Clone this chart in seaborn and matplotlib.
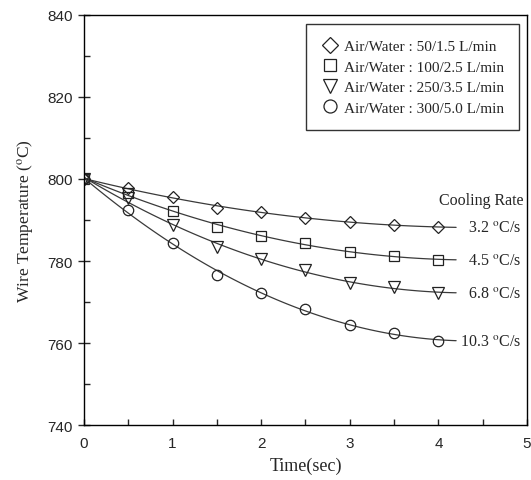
import numpy as np
import pandas as pd
import matplotlib
matplotlib.use("Agg")
import matplotlib.pyplot as plt
import seaborn as sns
from matplotlib.ticker import MultipleLocator

time_s = [0, 0.5, 1.0, 1.5, 2.0, 2.5, 3.0, 3.5, 4.0]
temp_50 = [800, 797.9, 795.5, 793.0, 791.9, 790.6, 789.6, 788.8, 788.2]
temp_100 = [800, 796.6, 792.3, 788.2, 786.2, 784.3, 782.2, 781.2, 780.3]
temp_250 = [800, 795.3, 788.8, 783.4, 780.6, 777.7, 774.7, 773.6, 772.2]
temp_300 = [800, 792.4, 784.3, 776.5, 772.3, 768.4, 764.4, 762.4, 760.5]

series_labels = ["Air/Water : 50/1.5 L/min", "Air/Water : 100/2.5 L/min",
                 "Air/Water : 250/3.5 L/min", "Air/Water : 300/5.0 L/min"]
rate_labels = ["3.2", "4.5", "6.8", "10.3"]
markers = ["D", "s", "v", "o"]
marker_sizes = [6.5, 7, 8, 7.5]

sns.set_theme(style="ticks")
plt.rcParams["font.family"] = ["Liberation Serif", "DejaVu Serif"]
plt.rcParams["mathtext.fontset"] = "stix"

fig = plt.figure(figsize=(5.31, 4.81), dpi=100)
ax = fig.add_axes([0.158, 0.1143, 0.8345, 0.8525])

all_temps = [temp_50, temp_100, temp_250, temp_300]
for temps, lab, mk, ms, rate in zip(all_temps, series_labels, markers, marker_sizes, rate_labels):
    # smooth quadratic fit like the original trend curves
    coef = np.polyfit(time_s, temps, 2)
    xs = np.linspace(0, 4.2, 100)
    fit = pd.DataFrame({"t": xs, "T": np.polyval(coef, xs)})
    sns.lineplot(data=fit, x="t", y="T", ax=ax, color="#3a3a3a", lw=0.9)
    ax.plot(time_s, temps, linestyle="none", marker=mk, ms=ms, mfc="none",
            mec="#222222", mew=0.9, label=lab)
    ax.text(4.93, np.polyval(coef, 4.2), rate + r" $^{\mathrm{o}}$C/s",
            ha="right", va="center", fontsize=11.5)

ax.text(4.96, 794.8, "Cooling Rate", ha="right", va="center", fontsize=11.5)

ax.set_xlim(0, 5)
ax.set_ylim(740, 840)
ax.xaxis.set_major_locator(MultipleLocator(1))
ax.xaxis.set_minor_locator(MultipleLocator(0.5))
ax.yaxis.set_major_locator(MultipleLocator(20))
ax.yaxis.set_minor_locator(MultipleLocator(10))
ax.tick_params(axis="x", which="both", direction="in", length=4, width=1,
               labelsize=11, labelfontfamily="Liberation Sans", pad=8)
ax.tick_params(axis="y", which="major", direction="inout", length=8, width=1,
               labelsize=11, labelfontfamily="Liberation Sans", pad=4)
ax.tick_params(axis="y", which="minor", direction="in", length=4, width=1)
for s in ax.spines.values():
    s.set_color("black")
    s.set_linewidth(1.0)

ax.set_xlabel("Time(sec)", fontsize=13, labelpad=5)
ax.set_ylabel(r"Wire Temperature ($^{\mathrm{o}}$C)", fontsize=12.5, labelpad=8)

leg = ax.legend(loc="upper right", fontsize=11, frameon=True, fancybox=False,
                edgecolor="black", borderpad=1.0, handletextpad=0.35,
                labelspacing=0.45, handlelength=1.1, markerscale=1.25,
                borderaxespad=0, bbox_to_anchor=(0.982, 0.978))
leg.get_frame().set_linewidth(1.0)

fig.savefig("out.png", dpi=100)
